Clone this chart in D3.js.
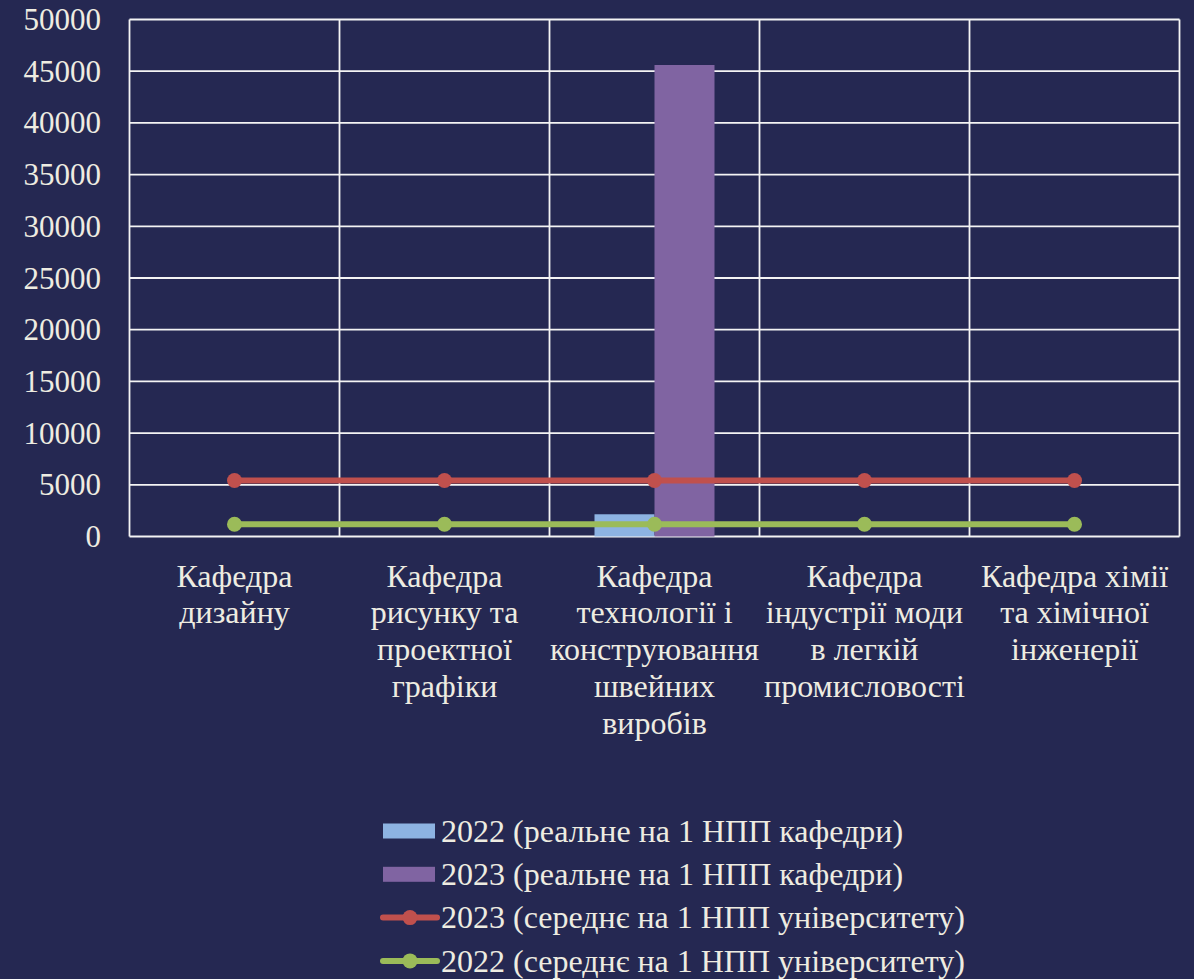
<!DOCTYPE html>
<html>
<head>
<meta charset="utf-8">
<script src="https://cdn.jsdelivr.net/npm/d3@7"></script>
<style>
    body { margin: 0; background: #252852; }
    svg { display: block; }
    text { font-family: "Liberation Serif", "Times New Roman", serif; fill: #eeece1; }
</style>
</head>
<body>
<div id="chart"></div>
<script>
// categories (departments), each label split into its lines
const categories = [
    ["Кафедра", "дизайну"],
    ["Кафедра", "рисунку та", "проектної", "графіки"],
    ["Кафедра", "технології і", "конструювання", "швейних", "виробів"],
    ["Кафедра", "індустрії моди", "в легкій", "промисловості"],
    ["Кафедра хімії", "та хімічної", "інженерії"]
];
const seriesNames = [
    "2022 (реальне на 1 НПП кафедри)",
    "2023 (реальне на 1 НПП кафедри)",
    "2023 (середнє на 1 НПП університету)",
    "2022 (середнє на 1 НПП університету)"
];
const real2022 = [0, 0, 2150, 0, 0];
const real2023 = [0, 0, 45600, 0, 0];
const avg2023 = [5420, 5420, 5420, 5420, 5420];
const avg2022 = [1190, 1190, 1190, 1190, 1190];
const yTicks = [0, 5000, 10000, 15000, 20000, 25000, 30000, 35000, 40000, 45000, 50000];

const colors = {bar22: "#8db3e2", bar23: "#8064a2", line23: "#c0504d", line22: "#9bbb59"};

const width = 1194, height = 979;
const margin = {top: 19.5, right: 14.5, bottom: 442.5, left: 129.5};
const plotW = width - margin.left - margin.right;
const plotH = height - margin.top - margin.bottom;

const svg = d3.select("#chart").append("svg")
    .attr("width", width)
    .attr("height", height);

svg.append("rect").attr("width", width).attr("height", height).attr("fill", "#252852");

const g = svg.append("g").attr("transform", `translate(${margin.left},${margin.top})`);

const idx = d3.range(categories.length);
const x = d3.scaleBand().domain(idx).range([0, plotW]).paddingInner(0).paddingOuter(0);
const y = d3.scaleLinear().domain([0, 50000]).range([plotH, 0]);
// two bars per category, gap width 150%
const xs = d3.scaleBand().domain([0, 1]).range([0, x.bandwidth()]).paddingOuter(0.75).paddingInner(0);

// horizontal grid
g.selectAll(".hgrid").data(yTicks).enter().append("line")
    .attr("x1", 0).attr("x2", plotW)
    .attr("y1", d => y(d)).attr("y2", d => y(d))
    .attr("stroke", "#f4f4f4").attr("stroke-width", 1.8);

// vertical grid at category boundaries
g.selectAll(".vgrid").data(d3.range(categories.length + 1)).enter().append("line")
    .attr("x1", d => d * x.step()).attr("x2", d => d * x.step())
    .attr("y1", 0).attr("y2", plotH)
    .attr("stroke", "#f4f4f4").attr("stroke-width", 1.8);

// y tick labels
g.selectAll(".ytick").data(yTicks).enter().append("text")
    .attr("x", -28.5).attr("y", d => y(d))
    .attr("dy", "0.34em")
    .attr("text-anchor", "end")
    .style("font-size", "31px")
    .text(d => d);

// bars
const bars = [{vals: real2022, color: colors.bar22, k: 0}, {vals: real2023, color: colors.bar23, k: 1}];
bars.forEach(s => {
    g.selectAll(null).data(idx.filter(i => s.vals[i] > 0)).enter().append("rect")
        .attr("x", i => x(i) + xs(s.k))
        .attr("width", xs.bandwidth())
        .attr("y", i => y(s.vals[i]))
        .attr("height", i => plotH - y(s.vals[i]))
        .attr("fill", s.color);
});

// lines with markers
const lines = [{vals: avg2023, color: colors.line23}, {vals: avg2022, color: colors.line22}];
const lineGen = d3.line().x(i => x(i) + x.bandwidth() / 2);
lines.forEach(s => {
    g.append("path")
        .datum(idx)
        .attr("d", lineGen.y(i => y(s.vals[i])))
        .attr("fill", "none")
        .attr("stroke", s.color)
        .attr("stroke-width", 6);
    g.selectAll(null).data(idx).enter().append("circle")
        .attr("cx", i => x(i) + x.bandwidth() / 2)
        .attr("cy", i => y(s.vals[i]))
        .attr("r", 7.5)
        .attr("fill", s.color);
});

// category labels
const labels = g.selectAll(".xlabel").data(idx).enter().append("text")
    .attr("text-anchor", "middle")
    .attr("transform", i => `translate(${x(i) + x.bandwidth() / 2},${plotH + 50})`)
    .style("font-size", "32px");
labels.selectAll("tspan").data(i => categories[i]).enter().append("tspan")
    .attr("x", 0)
    .attr("y", (d, j) => j * 36.8)
    .text(d => d);

// legend
const legend = svg.append("g").attr("transform", "translate(383,831)");
const rowH = 43.3;
seriesNames.forEach((name, k) => {
    let row = legend.append("g").attr("transform", `translate(0,${k * rowH})`);
    if (k < 2) {
        row.append("rect").attr("x", 0).attr("y", -7.5).attr("width", 52).attr("height", 15)
            .attr("fill", k === 0 ? colors.bar22 : colors.bar23);
    } else {
        let c = k === 2 ? colors.line23 : colors.line22;
        row.append("line").attr("x1", 0).attr("x2", 54).attr("y1", 0).attr("y2", 0)
            .attr("stroke", c).attr("stroke-width", 6).attr("stroke-linecap", "round");
        row.append("circle").attr("cx", 27).attr("cy", 0).attr("r", 7.5).attr("fill", c);
    }
    row.append("text")
        .attr("x", 58)
        .attr("dy", "0.34em")
        .style("font-size", "32px")
        .text(name);
});
</script>
</body>
</html>
